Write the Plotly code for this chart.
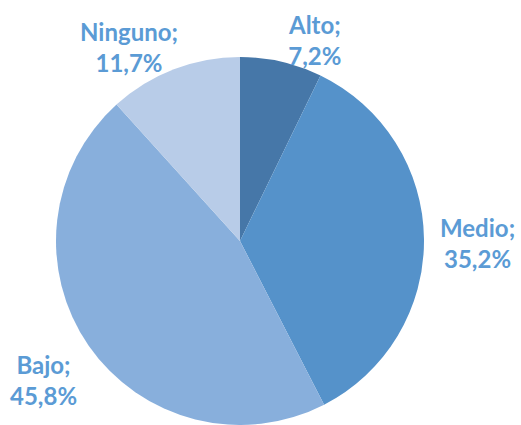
import plotly.graph_objects as go

# datos del gráfico
categorias = ["Alto", "Medio", "Bajo", "Ninguno"]
porcentajes = [7.2, 35.2, 45.8, 11.7]
colores = ["#4677A8", "#5592CA", "#88AFDC", "#B8CCE8"]

# posiciones de las etiquetas (px desde la esquina superior izquierda)
pos_etiquetas = {"Alto": (314, 40), "Medio": (477, 243), "Bajo": (43, 380), "Ninguno": (129, 47)}

W, H = 521, 425
COLOR_TEXTO = "#5B9BD5"

fig = go.Figure(go.Pie(
    labels=categorias, values=porcentajes,
    sort=False, direction="clockwise", rotation=0,
    marker=dict(colors=colores, line=dict(width=0)),
    textinfo="none", hoverinfo="label+percent",
    showlegend=False,
    domain=dict(x=[55 / W, 425 / W], y=[0, (H - 57) / H]),
))

for cat, val in zip(categorias, porcentajes):
    px, py = pos_etiquetas[cat]
    fig.add_annotation(
        x=px / W, y=1 - py / H, xref="paper", yref="paper",
        xanchor="center", yanchor="middle", showarrow=False,
        text=f"<b>{cat};<br>{val:.1f}%</b>".replace(".", ","),
        font=dict(family="Lato", size=24, color=COLOR_TEXTO),
    )

fig.update_layout(
    width=W, height=H,
    margin=dict(l=0, r=0, t=0, b=0),
    paper_bgcolor="white", plot_bgcolor="white",
)

# sin margen del body para que la figura ocupe toda la ventana
fig.write_html(
    "out.html",
    config={"displayModeBar": False},
    post_script="document.body.style.margin='0';document.body.style.overflow='hidden';",
)
